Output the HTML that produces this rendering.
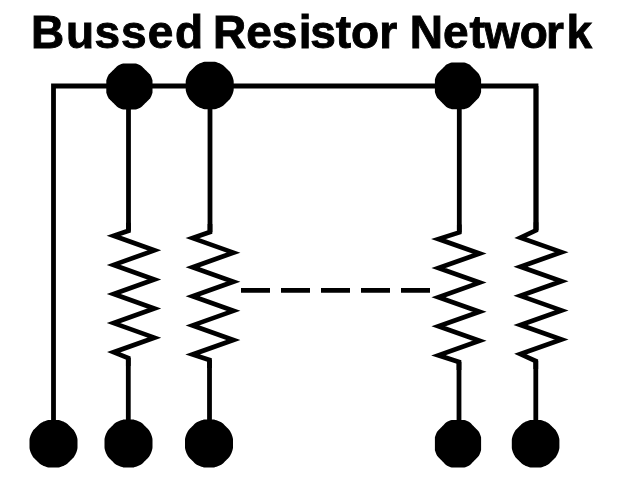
<!DOCTYPE html>
<html><head><meta charset="utf-8"><style>
html,body{margin:0;padding:0;background:#fff;width:640px;height:480px;overflow:hidden}
.t{position:absolute;left:34.2px;top:9px;will-change:transform;font-family:"Liberation Sans",sans-serif;font-weight:bold;font-size:46px;line-height:46px;-webkit-text-stroke:0.9px #000;white-space:nowrap;color:#000}
.t span{position:relative}
svg{position:absolute;left:0;top:0}
</style></head><body>
<div class="t"><span style="left:-2.9px">B</span><span style="left:-1.2px">u</span><span style="left:-0.95px">s</span>s<span style="left:1.3px">e</span><span style="left:2.8px">d</span> Res<span style="left:1.3px">i</span>stor Ne<span style="left:0.8px">t</span>wo<span style="left:-1.9px">r</span><span style="left:0.8px">k</span></div>
<svg width="640" height="480" viewBox="0 0 640 480">
<g fill="none" stroke="#000" stroke-width="4.8" stroke-linejoin="miter" stroke-miterlimit="10">
<polyline points="53.5,444 53.5,86 536,86 536,230.5"/>
<polyline points="128.50,86.00 128.50,230.70"/>
<polyline points="128.30,358.00 128.30,444.00"/>
<polyline points="210.00,86.00 210.00,232.00"/>
<polyline points="209.50,360.00 209.50,444.00"/>
<polyline points="459.30,86.00 459.30,232.40"/>
<polyline points="459.00,362.00 459.00,444.00"/>
<polyline points="536.00,86.00 536.00,230.30"/>
<polyline points="535.80,361.00 535.80,444.00"/>
<line x1="241" y1="290.3" x2="431" y2="290.3" stroke-dasharray="29 11"/>
</g>
<g fill="none" stroke="#000" stroke-width="4.7" stroke-linejoin="miter" stroke-miterlimit="10">
<polyline points="128.50,222.70 128.50,230.70 113.70,235.80 154.30,250.35 113.70,264.90 154.30,279.45 113.70,294.00 154.30,308.55 113.70,323.10 154.30,337.65 113.70,352.20 128.30,358.00 128.30,366.00"/>
<polyline points="210.00,224.00 210.00,232.00 192.60,238.10 233.40,252.65 192.60,267.20 233.40,281.75 192.60,296.30 233.40,310.85 192.60,325.40 233.40,339.95 192.60,354.50 209.50,360.00 209.50,368.00"/>
<polyline points="459.30,224.40 459.30,232.40 438.47,239.00 479.53,253.54 438.47,268.08 479.53,282.62 438.47,297.16 479.53,311.70 438.47,326.24 479.53,340.78 438.47,355.32 459.00,362.00 459.00,370.00"/>
<polyline points="536.00,222.30 536.00,230.30 520.47,237.60 561.53,252.16 520.47,266.72 561.53,281.28 520.47,295.84 561.53,310.40 520.47,324.96 561.53,339.52 520.47,354.08 535.80,361.00 535.80,369.00"/>
</g>
<g fill="#000">
<polygon points="152.50,86.50 152.50,87.71 152.50,88.92 152.50,90.14 152.50,91.39 152.49,92.66 152.14,93.86 151.72,95.03 151.24,96.18 150.70,97.31 150.11,98.40 149.21,99.31 148.32,100.19 147.45,101.05 146.59,101.91 145.73,102.76 144.88,103.62 144.02,104.47 143.15,105.34 142.26,106.22 141.35,107.12 140.25,107.71 139.12,108.25 137.97,108.72 136.79,109.14 135.59,109.49 134.31,109.50 133.06,109.50 131.83,109.50 130.61,109.50 129.40,109.50 128.19,109.50 126.97,109.50 125.74,109.50 124.49,109.50 123.21,109.49 122.01,109.14 120.83,108.72 119.68,108.25 118.55,107.71 117.45,107.12 116.54,106.22 115.65,105.34 114.78,104.47 113.92,103.62 113.07,102.76 112.21,101.91 111.35,101.05 110.48,100.19 109.59,99.31 108.69,98.40 108.10,97.31 107.56,96.18 107.08,95.03 106.66,93.86 106.31,92.66 106.30,91.39 106.30,90.14 106.30,88.92 106.30,87.71 106.30,86.50 106.30,85.29 106.30,84.08 106.30,82.86 106.30,81.61 106.31,80.34 106.66,79.14 107.08,77.97 107.56,76.82 108.10,75.69 108.69,74.60 109.59,73.69 110.48,72.81 111.35,71.95 112.21,71.09 113.07,70.24 113.92,69.38 114.78,68.53 115.65,67.66 116.54,66.78 117.45,65.88 118.55,65.29 119.68,64.75 120.83,64.28 122.01,63.86 123.21,63.51 124.49,63.50 125.74,63.50 126.97,63.50 128.19,63.50 129.40,63.50 130.61,63.50 131.83,63.50 133.06,63.50 134.31,63.50 135.59,63.51 136.79,63.86 137.97,64.28 139.12,64.75 140.25,65.29 141.35,65.88 142.26,66.78 143.15,67.66 144.02,68.53 144.88,69.38 145.73,70.24 146.59,71.09 147.45,71.95 148.32,72.81 149.21,73.69 150.11,74.60 150.70,75.69 151.24,76.82 151.72,77.97 152.14,79.14 152.49,80.34 152.50,81.61 152.50,82.86 152.50,84.08 152.50,85.29"/>
<polygon points="233.70,85.50 233.70,86.75 233.70,88.00 233.70,89.27 233.60,90.54 233.30,91.77 232.94,92.99 232.51,94.18 232.02,95.35 231.47,96.50 230.86,97.61 230.19,98.70 229.36,99.66 228.45,100.56 227.56,101.45 226.67,102.33 225.78,103.21 224.89,104.10 223.98,104.99 223.01,105.82 221.92,106.48 220.79,107.09 219.64,107.63 218.46,108.12 217.25,108.54 216.02,108.90 214.78,109.20 213.50,109.30 212.22,109.30 210.96,109.30 209.70,109.30 208.44,109.30 207.18,109.30 205.90,109.30 204.62,109.20 203.38,108.90 202.15,108.54 200.94,108.12 199.76,107.63 198.61,107.09 197.48,106.48 196.39,105.82 195.42,104.99 194.51,104.10 193.62,103.21 192.73,102.33 191.84,101.45 190.95,100.56 190.04,99.66 189.21,98.70 188.54,97.61 187.93,96.50 187.38,95.35 186.89,94.18 186.46,92.99 186.10,91.77 185.80,90.54 185.70,89.27 185.70,88.00 185.70,86.75 185.70,85.50 185.70,84.25 185.70,83.00 185.70,81.73 185.80,80.46 186.10,79.23 186.46,78.01 186.89,76.82 187.38,75.65 187.93,74.50 188.54,73.39 189.21,72.30 190.04,71.34 190.95,70.44 191.84,69.55 192.73,68.67 193.62,67.79 194.51,66.90 195.42,66.01 196.39,65.18 197.48,64.52 198.61,63.91 199.76,63.37 200.94,62.88 202.15,62.46 203.38,62.10 204.62,61.80 205.90,61.70 207.18,61.70 208.44,61.70 209.70,61.70 210.96,61.70 212.22,61.70 213.50,61.70 214.78,61.80 216.02,62.10 217.25,62.46 218.46,62.88 219.64,63.37 220.79,63.91 221.92,64.52 223.01,65.18 223.98,66.01 224.89,66.90 225.78,67.79 226.67,68.67 227.56,69.55 228.45,70.44 229.36,71.34 230.19,72.30 230.86,73.39 231.47,74.50 232.02,75.65 232.51,76.82 232.94,78.01 233.30,79.23 233.60,80.46 233.70,81.73 233.70,83.00 233.70,84.25"/>
<polygon points="481.10,85.80 481.10,87.03 481.10,88.26 481.10,89.51 481.10,90.77 481.09,92.07 480.74,93.28 480.32,94.48 479.84,95.65 479.30,96.80 478.71,97.91 477.81,98.83 476.92,99.73 476.05,100.61 475.19,101.48 474.33,102.35 473.48,103.21 472.62,104.09 471.75,104.97 470.86,105.86 469.95,106.77 468.85,107.38 467.72,107.93 466.57,108.41 465.39,108.83 464.19,109.19 462.91,109.20 461.66,109.20 460.43,109.20 459.21,109.20 458.00,109.20 456.79,109.20 455.57,109.20 454.34,109.20 453.09,109.20 451.81,109.19 450.61,108.83 449.43,108.41 448.28,107.93 447.15,107.38 446.05,106.77 445.14,105.86 444.25,104.97 443.38,104.09 442.52,103.21 441.67,102.35 440.81,101.48 439.95,100.61 439.08,99.73 438.19,98.83 437.29,97.91 436.70,96.80 436.16,95.65 435.68,94.48 435.26,93.28 434.91,92.07 434.90,90.77 434.90,89.51 434.90,88.26 434.90,87.03 434.90,85.80 434.90,84.57 434.90,83.34 434.90,82.09 434.90,80.83 434.91,79.53 435.26,78.32 435.68,77.12 436.16,75.95 436.70,74.80 437.29,73.69 438.19,72.77 439.08,71.87 439.95,70.99 440.81,70.12 441.67,69.25 442.52,68.39 443.38,67.51 444.25,66.63 445.14,65.74 446.05,64.83 447.15,64.22 448.28,63.67 449.43,63.19 450.61,62.77 451.81,62.41 453.09,62.40 454.34,62.40 455.57,62.40 456.79,62.40 458.00,62.40 459.21,62.40 460.43,62.40 461.66,62.40 462.91,62.40 464.19,62.41 465.39,62.77 466.57,63.19 467.72,63.67 468.85,64.22 469.95,64.83 470.86,65.74 471.75,66.63 472.62,67.51 473.48,68.39 474.33,69.25 475.19,70.12 476.05,70.99 476.92,71.87 477.81,72.77 478.71,73.69 479.30,74.80 479.84,75.95 480.32,77.12 480.74,78.32 481.09,79.53 481.10,80.83 481.10,82.09 481.10,83.34 481.10,84.57"/>
<polygon points="77.50,443.75 77.50,445.00 77.50,446.25 77.50,447.52 77.40,448.79 77.10,450.02 76.74,451.24 76.31,452.43 75.82,453.60 75.27,454.75 74.66,455.86 73.99,456.95 73.16,457.91 72.25,458.81 71.36,459.70 70.47,460.58 69.58,461.46 68.69,462.35 67.78,463.24 66.81,464.07 65.72,464.73 64.59,465.34 63.44,465.88 62.26,466.37 61.05,466.79 59.82,467.15 58.58,467.45 57.30,467.55 56.02,467.55 54.76,467.55 53.50,467.55 52.24,467.55 50.98,467.55 49.70,467.55 48.42,467.45 47.18,467.15 45.95,466.79 44.74,466.37 43.56,465.88 42.41,465.34 41.28,464.73 40.19,464.07 39.22,463.24 38.31,462.35 37.42,461.46 36.53,460.58 35.64,459.70 34.75,458.81 33.84,457.91 33.01,456.95 32.34,455.86 31.73,454.75 31.18,453.60 30.69,452.43 30.26,451.24 29.90,450.02 29.60,448.79 29.50,447.52 29.50,446.25 29.50,445.00 29.50,443.75 29.50,442.50 29.50,441.25 29.50,439.98 29.60,438.71 29.90,437.48 30.26,436.26 30.69,435.07 31.18,433.90 31.73,432.75 32.34,431.64 33.01,430.55 33.84,429.59 34.75,428.69 35.64,427.80 36.53,426.92 37.42,426.04 38.31,425.15 39.22,424.26 40.19,423.43 41.28,422.77 42.41,422.16 43.56,421.62 44.74,421.13 45.95,420.71 47.18,420.35 48.42,420.05 49.70,419.95 50.98,419.95 52.24,419.95 53.50,419.95 54.76,419.95 56.02,419.95 57.30,419.95 58.58,420.05 59.82,420.35 61.05,420.71 62.26,421.13 63.44,421.62 64.59,422.16 65.72,422.77 66.81,423.43 67.78,424.26 68.69,425.15 69.58,426.04 70.47,426.92 71.36,427.80 72.25,428.69 73.16,429.59 73.99,430.55 74.66,431.64 75.27,432.75 75.82,433.90 76.31,435.07 76.74,436.26 77.10,437.48 77.40,438.71 77.50,439.98 77.50,441.25 77.50,442.50"/>
<polygon points="152.50,443.50 152.50,444.76 152.50,446.02 152.50,447.30 152.40,448.58 152.10,449.82 151.74,451.05 151.31,452.26 150.82,453.44 150.27,454.59 149.66,455.72 148.99,456.81 148.16,457.78 147.25,458.69 146.36,459.58 145.47,460.47 144.58,461.36 143.69,462.25 142.78,463.16 141.81,463.99 140.72,464.66 139.59,465.27 138.44,465.82 137.26,466.31 136.05,466.74 134.82,467.10 133.58,467.40 132.30,467.50 131.02,467.50 129.76,467.50 128.50,467.50 127.24,467.50 125.98,467.50 124.70,467.50 123.42,467.40 122.18,467.10 120.95,466.74 119.74,466.31 118.56,465.82 117.41,465.27 116.28,464.66 115.19,463.99 114.22,463.16 113.31,462.25 112.42,461.36 111.53,460.47 110.64,459.58 109.75,458.69 108.84,457.78 108.01,456.81 107.34,455.72 106.73,454.59 106.18,453.44 105.69,452.26 105.26,451.05 104.90,449.82 104.60,448.58 104.50,447.30 104.50,446.02 104.50,444.76 104.50,443.50 104.50,442.24 104.50,440.98 104.50,439.70 104.60,438.42 104.90,437.18 105.26,435.95 105.69,434.74 106.18,433.56 106.73,432.41 107.34,431.28 108.01,430.19 108.84,429.22 109.75,428.31 110.64,427.42 111.53,426.53 112.42,425.64 113.31,424.75 114.22,423.84 115.19,423.01 116.28,422.34 117.41,421.73 118.56,421.18 119.74,420.69 120.95,420.26 122.18,419.90 123.42,419.60 124.70,419.50 125.98,419.50 127.24,419.50 128.50,419.50 129.76,419.50 131.02,419.50 132.30,419.50 133.58,419.60 134.82,419.90 136.05,420.26 137.26,420.69 138.44,421.18 139.59,421.73 140.72,422.34 141.81,423.01 142.78,423.84 143.69,424.75 144.58,425.64 145.47,426.53 146.36,427.42 147.25,428.31 148.16,429.22 148.99,430.19 149.66,431.28 150.27,432.41 150.82,433.56 151.31,434.74 151.74,435.95 152.10,437.18 152.40,438.42 152.50,439.70 152.50,440.98 152.50,442.24"/>
<polygon points="233.00,443.50 233.00,444.76 233.00,446.02 233.00,447.30 232.90,448.58 232.60,449.82 232.24,451.05 231.81,452.26 231.32,453.44 230.77,454.59 230.16,455.72 229.49,456.81 228.66,457.78 227.75,458.69 226.86,459.58 225.97,460.47 225.08,461.36 224.19,462.25 223.28,463.16 222.31,463.99 221.22,464.66 220.09,465.27 218.94,465.82 217.76,466.31 216.55,466.74 215.32,467.10 214.08,467.40 212.80,467.50 211.52,467.50 210.26,467.50 209.00,467.50 207.74,467.50 206.48,467.50 205.20,467.50 203.92,467.40 202.68,467.10 201.45,466.74 200.24,466.31 199.06,465.82 197.91,465.27 196.78,464.66 195.69,463.99 194.72,463.16 193.81,462.25 192.92,461.36 192.03,460.47 191.14,459.58 190.25,458.69 189.34,457.78 188.51,456.81 187.84,455.72 187.23,454.59 186.68,453.44 186.19,452.26 185.76,451.05 185.40,449.82 185.10,448.58 185.00,447.30 185.00,446.02 185.00,444.76 185.00,443.50 185.00,442.24 185.00,440.98 185.00,439.70 185.10,438.42 185.40,437.18 185.76,435.95 186.19,434.74 186.68,433.56 187.23,432.41 187.84,431.28 188.51,430.19 189.34,429.22 190.25,428.31 191.14,427.42 192.03,426.53 192.92,425.64 193.81,424.75 194.72,423.84 195.69,423.01 196.78,422.34 197.91,421.73 199.06,421.18 200.24,420.69 201.45,420.26 202.68,419.90 203.92,419.60 205.20,419.50 206.48,419.50 207.74,419.50 209.00,419.50 210.26,419.50 211.52,419.50 212.80,419.50 214.08,419.60 215.32,419.90 216.55,420.26 217.76,420.69 218.94,421.18 220.09,421.73 221.22,422.34 222.31,423.01 223.28,423.84 224.19,424.75 225.08,425.64 225.97,426.53 226.86,427.42 227.75,428.31 228.66,429.22 229.49,430.19 230.16,431.28 230.77,432.41 231.32,433.56 231.81,434.74 232.24,435.95 232.60,437.18 232.90,438.42 233.00,439.70 233.00,440.98 233.00,442.24"/>
<polygon points="481.10,443.75 481.10,445.00 481.10,446.25 481.10,447.52 481.10,448.81 481.09,450.13 480.74,451.36 480.32,452.58 479.84,453.77 479.30,454.93 478.71,456.07 477.81,457.00 476.92,457.91 476.05,458.81 475.19,459.70 474.33,460.58 473.48,461.46 472.62,462.35 471.75,463.24 470.86,464.16 469.95,465.08 468.85,465.70 467.72,466.25 466.57,466.75 465.39,467.18 464.19,467.54 462.91,467.55 461.66,467.55 460.43,467.55 459.21,467.55 458.00,467.55 456.79,467.55 455.57,467.55 454.34,467.55 453.09,467.55 451.81,467.54 450.61,467.18 449.43,466.75 448.28,466.25 447.15,465.70 446.05,465.08 445.14,464.16 444.25,463.24 443.38,462.35 442.52,461.46 441.67,460.58 440.81,459.70 439.95,458.81 439.08,457.91 438.19,457.00 437.29,456.07 436.70,454.93 436.16,453.77 435.68,452.58 435.26,451.36 434.91,450.13 434.90,448.81 434.90,447.52 434.90,446.25 434.90,445.00 434.90,443.75 434.90,442.50 434.90,441.25 434.90,439.98 434.90,438.69 434.91,437.37 435.26,436.14 435.68,434.92 436.16,433.73 436.70,432.57 437.29,431.43 438.19,430.50 439.08,429.59 439.95,428.69 440.81,427.80 441.67,426.92 442.52,426.04 443.38,425.15 444.25,424.26 445.14,423.34 446.05,422.42 447.15,421.80 448.28,421.25 449.43,420.75 450.61,420.32 451.81,419.96 453.09,419.95 454.34,419.95 455.57,419.95 456.79,419.95 458.00,419.95 459.21,419.95 460.43,419.95 461.66,419.95 462.91,419.95 464.19,419.96 465.39,420.32 466.57,420.75 467.72,421.25 468.85,421.80 469.95,422.42 470.86,423.34 471.75,424.26 472.62,425.15 473.48,426.04 474.33,426.92 475.19,427.80 476.05,428.69 476.92,429.59 477.81,430.50 478.71,431.43 479.30,432.57 479.84,433.73 480.32,434.92 480.74,436.14 481.09,437.37 481.10,438.69 481.10,439.98 481.10,441.25 481.10,442.50"/>
<polygon points="559.40,443.75 559.40,445.00 559.40,446.25 559.40,447.52 559.30,448.79 559.00,450.02 558.64,451.24 558.22,452.43 557.73,453.60 557.19,454.75 556.58,455.86 555.92,456.95 555.09,457.91 554.20,458.81 553.31,459.70 552.43,460.58 551.55,461.46 550.66,462.35 549.76,463.24 548.80,464.07 547.71,464.73 546.60,465.34 545.45,465.88 544.28,466.37 543.09,466.79 541.87,467.15 540.64,467.45 539.37,467.55 538.10,467.55 536.85,467.55 535.60,467.55 534.35,467.55 533.10,467.55 531.83,467.55 530.56,467.45 529.33,467.15 528.11,466.79 526.92,466.37 525.75,465.88 524.60,465.34 523.49,464.73 522.40,464.07 521.44,463.24 520.54,462.35 519.65,461.46 518.77,460.58 517.89,459.70 517.00,458.81 516.11,457.91 515.28,456.95 514.62,455.86 514.01,454.75 513.47,453.60 512.98,452.43 512.56,451.24 512.20,450.02 511.90,448.79 511.80,447.52 511.80,446.25 511.80,445.00 511.80,443.75 511.80,442.50 511.80,441.25 511.80,439.98 511.90,438.71 512.20,437.48 512.56,436.26 512.98,435.07 513.47,433.90 514.01,432.75 514.62,431.64 515.28,430.55 516.11,429.59 517.00,428.69 517.89,427.80 518.77,426.92 519.65,426.04 520.54,425.15 521.44,424.26 522.40,423.43 523.49,422.77 524.60,422.16 525.75,421.62 526.92,421.13 528.11,420.71 529.33,420.35 530.56,420.05 531.83,419.95 533.10,419.95 534.35,419.95 535.60,419.95 536.85,419.95 538.10,419.95 539.37,419.95 540.64,420.05 541.87,420.35 543.09,420.71 544.28,421.13 545.45,421.62 546.60,422.16 547.71,422.77 548.80,423.43 549.76,424.26 550.66,425.15 551.55,426.04 552.43,426.92 553.31,427.80 554.20,428.69 555.09,429.59 555.92,430.55 556.58,431.64 557.19,432.75 557.73,433.90 558.22,435.07 558.64,436.26 559.00,437.48 559.30,438.71 559.40,439.98 559.40,441.25 559.40,442.50"/>
</g>
</svg>
</body></html>
